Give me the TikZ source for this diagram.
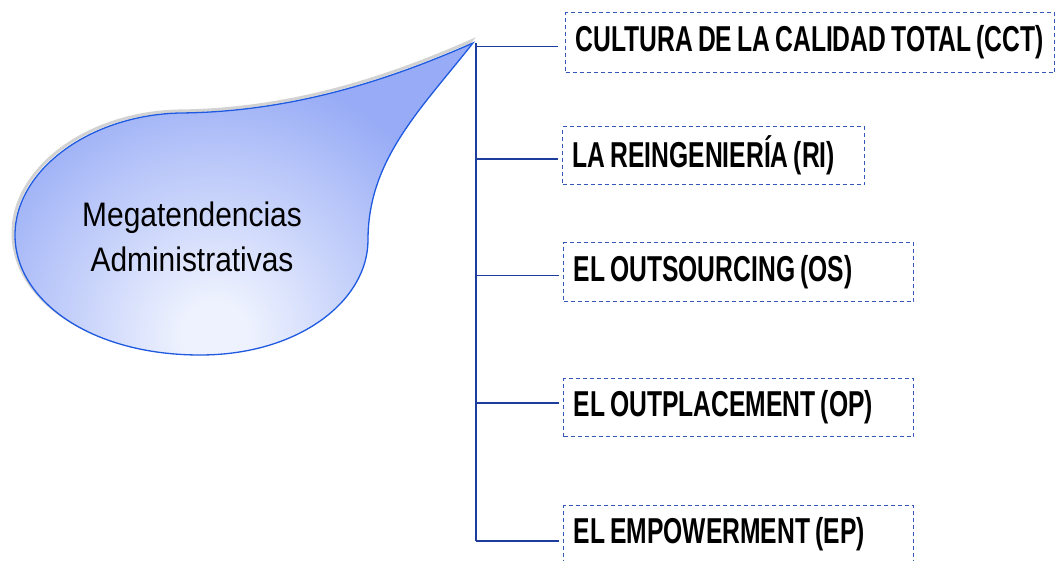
\documentclass[tikz,border=0pt]{standalone}
\usepackage{fontspec}
\setmainfont{Liberation Sans}
\newfontfamily\labfont{Liberation Sans}[FakeStretch=0.685,WordSpace=0.75]
\newfontfamily\megafont{Liberation Sans}[FakeStretch=0.88]
\definecolor{dropD}{HTML}{97ABF6}
\definecolor{dropL}{HTML}{EEF2FE}
\definecolor{dropline}{HTML}{1F5AE0}
\definecolor{connc}{HTML}{1C3C9E}
\definecolor{boxc}{HTML}{3558B8}
\pgfdeclareradialshading{dropshade}{\pgfpoint{0bp}{0bp}}{color(0bp)=(dropL); color(2bp)=(dropL); color(16bp)=(dropD); color(50bp)=(dropD)}
\tikzset{
  droppath/.style={insert path={(473,43) .. controls (400,75) and (300,112) .. (180,113)
     .. controls (90,115) and (15,170) .. (15,235)
     .. controls (15,300) and (90,355) .. (200,355)
     .. controls (300,355) and (368,300) .. (368,240)
     .. controls (368,160) and (420,110) .. (473,43) -- cycle}},
  itembox/.style={draw=boxc, line width=1.2pt, dash pattern=on 4pt off 3pt,
     anchor=north west, inner xsep=10pt, inner ysep=0pt,
     font=\labfont\bfseries\fontsize{36}{40}\selectfont},
  conn/.style={draw=connc, line width=1.8pt}
}
\begin{document}
\begin{tikzpicture}[x=1pt,y=-1pt]
\useasboundingbox (0,0) rectangle (1055,561);
\fill[white] (0,0) rectangle (1055,561);
% drop shape
\draw[gray!70, line width=3pt, opacity=0.5, shift={(-2,-2)}, droppath];
\begin{scope}
  \clip[droppath];
  \fill[dropD] (0,0) rectangle (500,400);
  \shade[shading=dropshade] (215,335) circle (420);
\end{scope}
\draw[dropline, line width=1.3pt, droppath];
\node[font=\megafont\fontsize{34}{45}\selectfont, align=center] (mega) at (192,237) {Megatendencias\\Administrativas};
% boxes
\node[itembox, minimum width=489, minimum height=60] (b1) at (565,12) {\makebox[469pt][l]{CULTURA DE LA CALIDAD TOTAL (CCT)}};
\node[itembox, minimum width=302, minimum height=58] (b2) at (562,126) {\makebox[282pt][l]{LA REINGENIERÍA (RI)}};
\node[itembox, minimum width=350, minimum height=59] (b3) at (563,242) {\makebox[330pt][l]{EL OUTSOURCING (OS)}};
\node[itembox, minimum width=350, minimum height=58] (b4) at (563,378) {\makebox[330pt][l]{EL OUTPLACEMENT (OP)}};
\node[itembox, minimum width=350, minimum height=58] (b5) at (563,505) {\makebox[330pt][l]{EL EMPOWERMENT (EP)}};
% connectors
\coordinate (tip) at (476,43);
\coordinate (trunkend) at (476,541);
\draw[conn] (tip) -- (trunkend);
\draw[conn] ([yshift=-4pt]b1.west -| tip) -- ([xshift=-7pt,yshift=-4pt]b1.west);
\draw[conn] ([yshift=-3.5pt]b2.west -| tip) -- ([xshift=-4pt,yshift=-3.5pt]b2.west);
\draw[conn] ([yshift=-3.5pt]b3.west -| tip) -- ([xshift=-4pt,yshift=-3.5pt]b3.west);
\draw[conn] ([yshift=5pt]b4.west -| tip) -- ([xshift=-4pt,yshift=5pt]b4.west);
\draw[conn] ([yshift=-6pt]b5.west -| tip) -- ([xshift=-4pt,yshift=-6pt]b5.west);
\end{tikzpicture}
\end{document}
